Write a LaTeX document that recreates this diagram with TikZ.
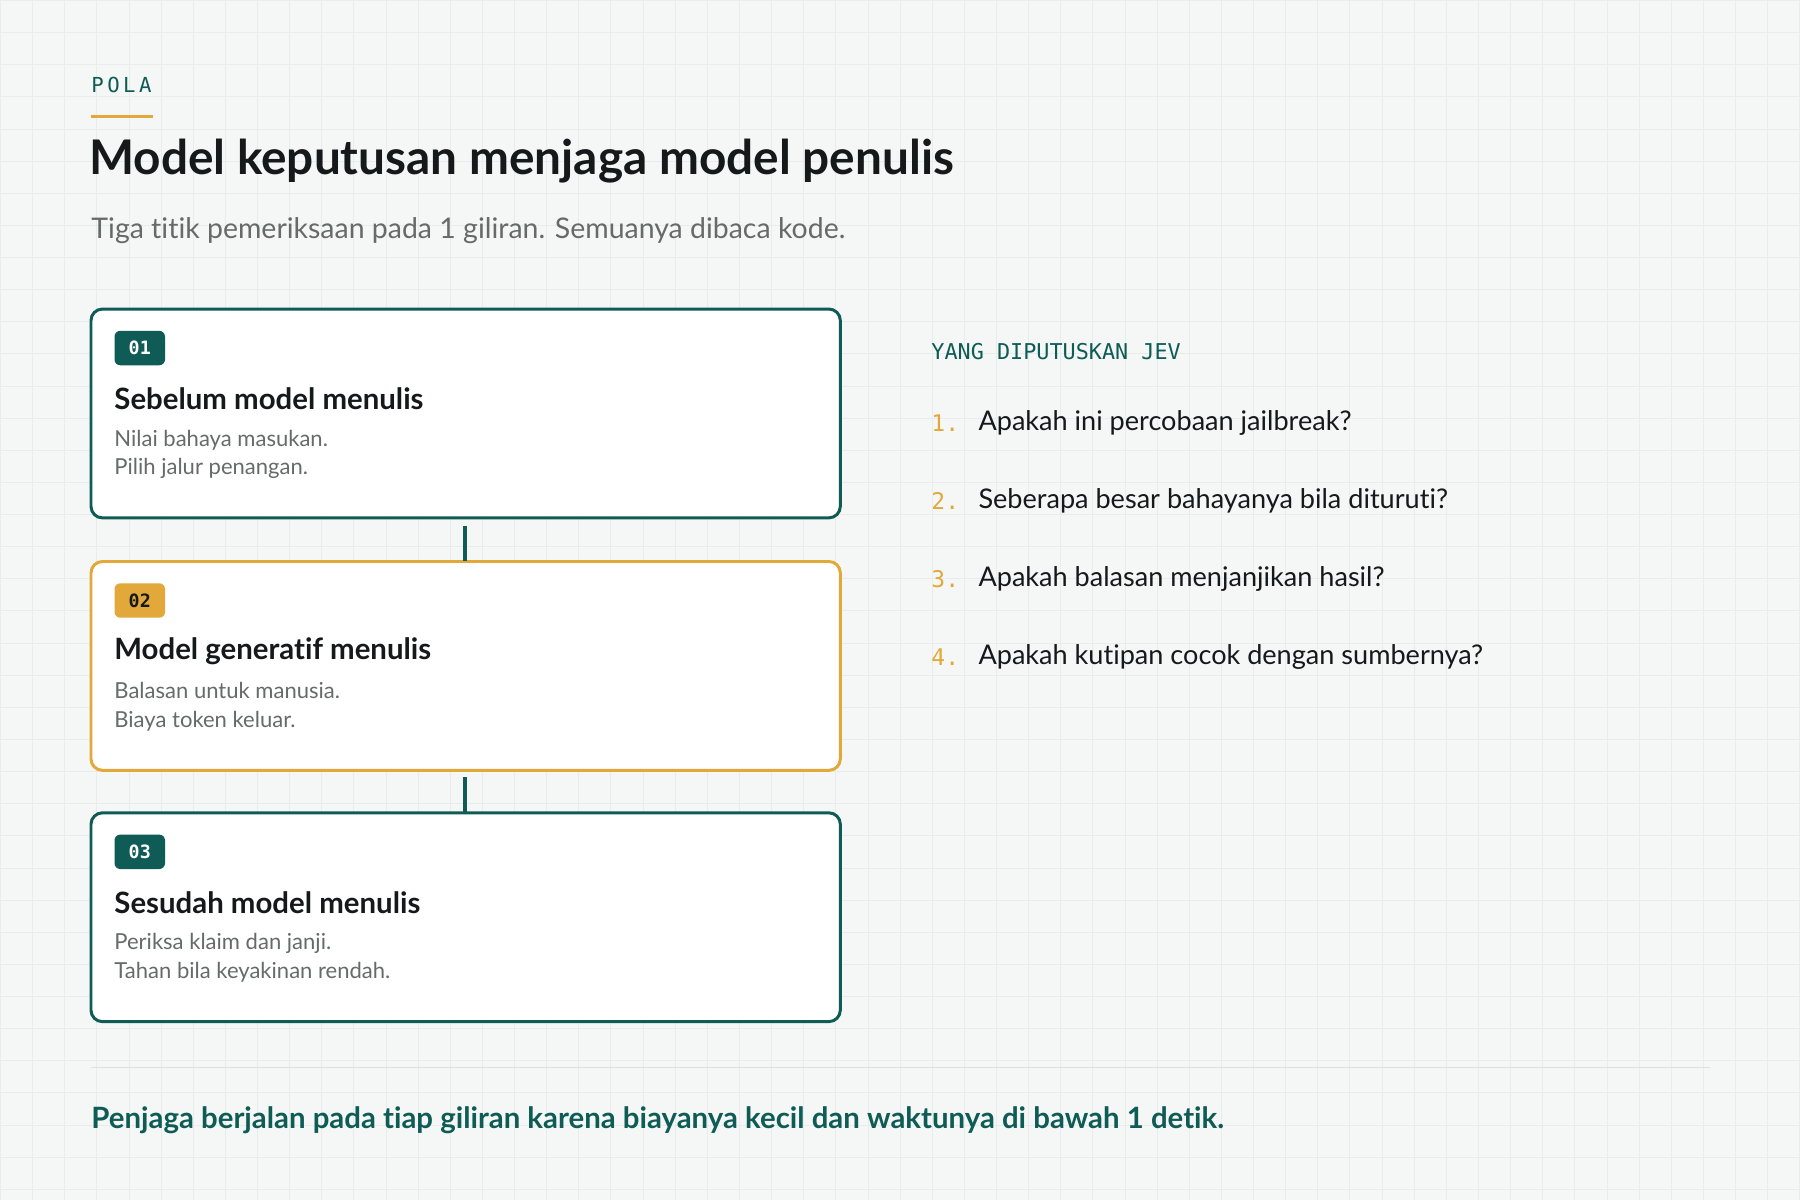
\documentclass[tikz,border=0pt]{standalone}
\usepackage{fontspec}
\setmainfont{Lato}[Ligatures={NoCommon}]
\setmonofont{DejaVu Sans Mono}
\usetikzlibrary{positioning}
\definecolor{teal}{HTML}{0E5C55}
\definecolor{gold}{HTML}{E3A83A}
\definecolor{bg}{HTML}{F5F7F6}
\definecolor{gridc}{HTML}{E8ECEA}
\definecolor{grey}{HTML}{666B6A}
\definecolor{ink}{HTML}{15191A}
\begin{document}
\begin{tikzpicture}[x=0.5pt,y=-0.5pt,
step box/.style={draw=#1, line width=1.3pt, rounded corners=5pt, fill=white},
badge/.style={fill=#1, rounded corners=2.5pt, minimum width=22pt, minimum height=15pt, inner sep=0pt, font=\ttfamily\bfseries\fontsize{8}{9}\selectfont},
head/.style={anchor=west, font=\bfseries\fontsize{12.8}{14}\selectfont, text=ink},
desc/.style={anchor=north west, align=left, font=\fontsize{9.6}{12.5}\selectfont, text=grey, inner sep=0pt},
num/.style={anchor=west, font=\ttfamily\fontsize{10}{12}\selectfont, text=gold},
item/.style={anchor=west, font=\fontsize{11.8}{13}\selectfont, text=ink},
link/.style={teal, line width=1.5pt},
]
\fill[bg] (0,0) rectangle (1568,1045);
\draw[gridc, line width=0.3pt, step=14pt] (0,0) grid (1568,1045);
\useasboundingbox (0,0) rectangle (1568,1045);

% header
\node[anchor=west, inner sep=0pt, text=teal, font=\ttfamily\fontsize{9}{10}\selectfont] (tag) at (79,74) {P\,O\,L\,A};
\draw[gold, line width=1.5pt] (79,101) -- (133,101);
\node[anchor=west, inner sep=0pt, text=ink, font=\bfseries\fontsize{20.8}{24}\selectfont] (title) at (77,140) {Model keputusan menjaga model penulis};
\node[anchor=west, inner sep=0pt, text=grey, font=\fontsize{12.4}{14}\selectfont] (sub) at (79,201) {Tiga titik pemeriksaan pada 1 giliran. Semuanya dibaca kode.};

% steps
\foreach \i/\y/\c/\tc/\t/\a/\b in {
  01/269/teal/white/Sebelum model menulis/Nilai bahaya masukan./Pilih jalur penangan.,
  02/489/gold/ink/Model generatif menulis/Balasan untuk manusia./Biaya token keluar.,
  03/708/teal/white/Sesudah model menulis/Periksa klaim dan janji./Tahan bila keyakinan rendah.}{
  \draw[step box=\c] (79,\y) rectangle (732,\y+182);
  \node[badge=\c, text=\tc] (b\i) at (121.5,\y+34) {\i};
  \node[head, inner sep=0pt] (h\i) at (99,\y+78) {\t};
  \node[desc] (d\i) at (99,\y+105) {\a\\\b};
}
\coordinate (s1) at (405,458); \coordinate (t1) at (405,489);
\coordinate (s2) at (405,677); \coordinate (t2) at (405,708);
\draw[link] (s1) -- (t1);
\draw[link] (s2) -- (t2);

% questions
\node[anchor=west, inner sep=0pt, text=teal, font=\ttfamily\fontsize{9.5}{11}\selectfont] (qh) at (811,306) {YANG DIPUTUSKAN JEV};
\foreach \n/\y/\q in {1/368/Apakah ini percobaan jailbreak?,
  2/436/Seberapa besar bahayanya bila dituruti?,
  3/504/Apakah balasan menjanjikan hasil?,
  4/572/Apakah kutipan cocok dengan sumbernya?}{
  \node[num, inner sep=0pt] (n\n) at (811,\y) {\n.};
  \node[item, inner sep=0pt] (q\n) at (852,\y) {\q};
}

% footer
\draw[gridc!70!gray!60, line width=0.6pt] (79,930) -- (1490,930);
\node[anchor=west, inner sep=0pt, text=teal, font=\bfseries\fontsize{12.8}{14}\selectfont] (foot) at (79,976) {Penjaga berjalan pada tiap giliran karena biayanya kecil dan waktunya di bawah 1 detik.};
\end{tikzpicture}
\end{document}
